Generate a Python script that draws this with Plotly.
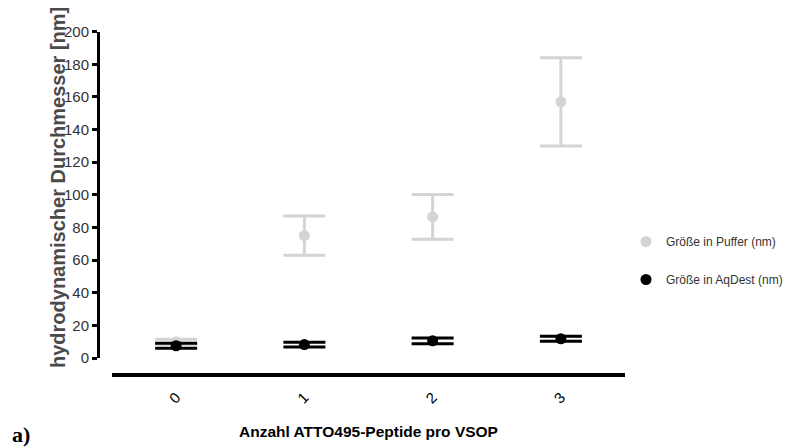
import plotly.graph_objects as go

W, H = 795, 447
OFF = 8  # default body margin of the html page

categories = ["0", "1", "2", "3"]
puffer_mean = [10, 75, 86.5, 157]
puffer_err = [1.5, 12, 13.7, 27]
aqdest_mean = [7.5, 8.2, 10.5, 11.8]
aqdest_err = [1.5, 1.5, 1.8, 1.5]
y_ticks = [0, 20, 40, 60, 80, 100, 120, 140, 160, 180, 200]

GRAY = "rgb(212,212,212)"

def px(x):
    return (x - OFF) / W

def py(y):
    return 1 - (y - OFF) / H

fig = go.Figure()
fig.add_trace(go.Scatter(
    x=categories, y=puffer_mean, mode="markers", name="Größe in Puffer (nm)",
    legendgroup="a",
    marker=dict(color=GRAY, size=11),
    error_y=dict(type="data", array=puffer_err, color=GRAY, thickness=3, width=21),
))
fig.add_trace(go.Scatter(
    x=categories, y=aqdest_mean, mode="markers", name="Größe in AqDest (nm)",
    legendgroup="b",
    marker=dict(color="black", size=11),
    error_y=dict(type="data", array=aqdest_err, color="black", thickness=3, width=21),
))

fig.update_layout(
    width=W, height=H,
    margin=dict(l=0, r=0, t=0, b=0, autoexpand=False),
    paper_bgcolor="white", plot_bgcolor="white",
    font=dict(family="Liberation Sans, Arial, sans-serif", color="#333"),
    showlegend=True,
    legend=dict(x=px(626), y=py(227), xanchor="left", yanchor="top",
                font=dict(size=12, color="#333"), tracegroupgap=19,
                bgcolor="rgba(0,0,0,0)"),
    xaxis=dict(
        domain=[px(112), px(625)], range=[-0.5, 3.5], type="category",
        anchor="free", position=py(375), automargin=False,
        showline=True, linecolor="black", linewidth=3.5, showgrid=False,
        zeroline=False, ticks="", tickangle=-45, ticklabelstandoff=6,
        tickfont=dict(size=15, color="black"),
    ),
    yaxis=dict(
        domain=[py(358), py(31.7)], range=[0, 200],
        anchor="free", position=px(98), automargin=False,
        showline=True, linecolor="black", linewidth=3, showgrid=False,
        zeroline=False, ticks="outside", ticklen=5, tickwidth=2.5, tickcolor="black",
        tickvals=y_ticks, tickfont=dict(size=15, color="#333"),
    ),
    annotations=[
        dict(text="<b>hydrodynamischer Durchmesser [nm]</b>", textangle=-90,
             x=px(58), y=py(188), xref="paper", yref="paper",
             xanchor="center", yanchor="middle",
             showarrow=False, font=dict(size=20, color="#4a4a4a")),
        dict(text="<b>Anzahl ATTO495-Peptide pro VSOP</b>",
             x=px(368), y=py(431), xref="paper", yref="paper",
             xanchor="center", yanchor="middle",
             showarrow=False, font=dict(size=15.5, color="black")),
        dict(text="<b>a)</b>", x=px(10), y=py(434), xref="paper", yref="paper",
             xanchor="left", yanchor="middle", showarrow=False,
             font=dict(family="Liberation Serif, Times New Roman, serif", size=22, color="black")),
    ],
)

fig.write_html("out.html")
